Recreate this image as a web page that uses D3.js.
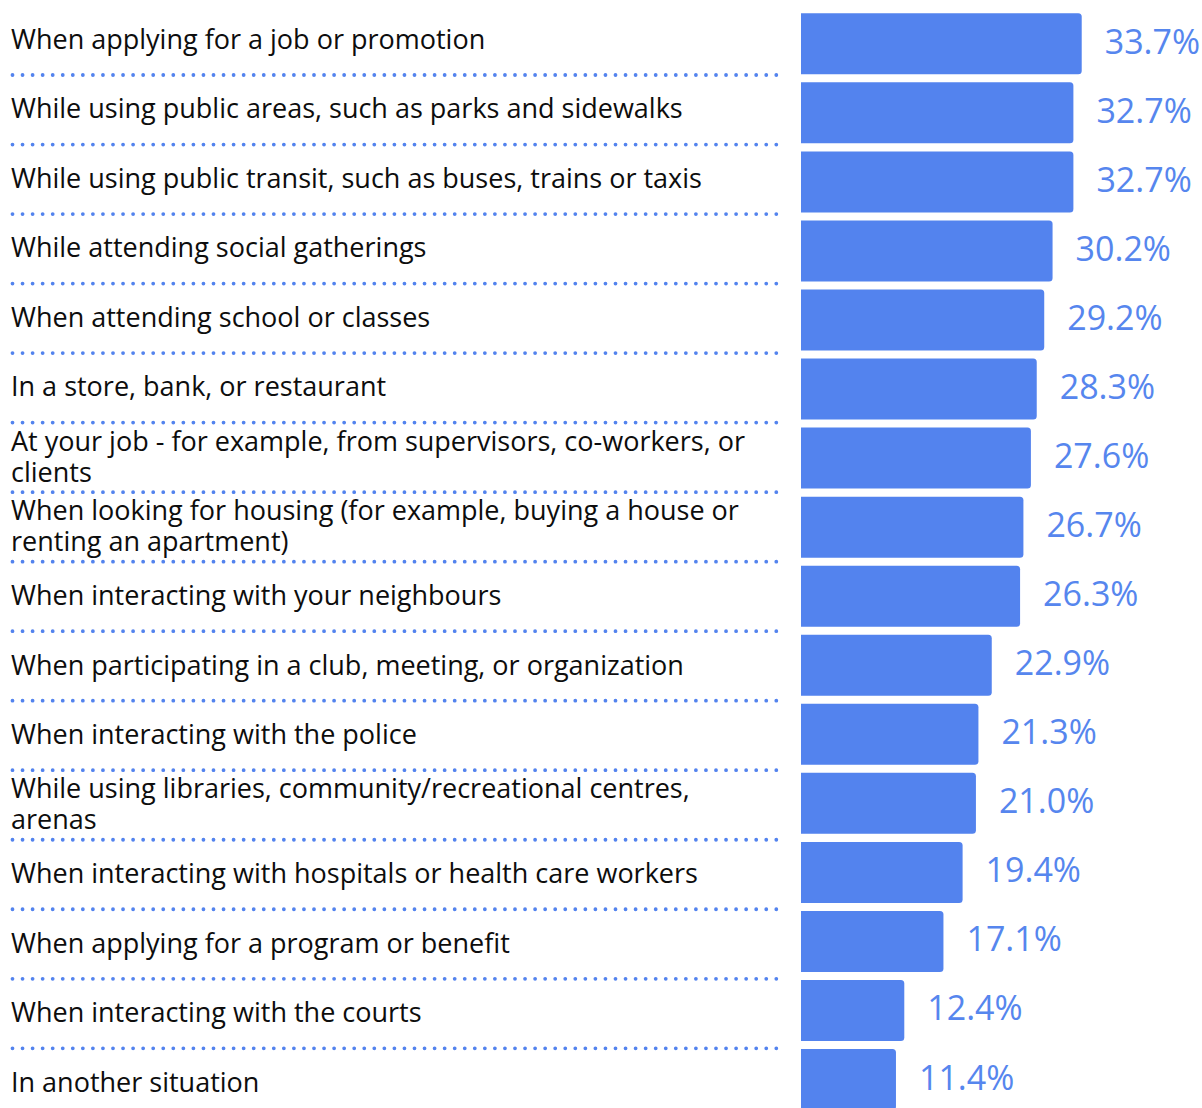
<!DOCTYPE html>
<html>
<head>
<meta charset="utf-8">
<script src="https://cdn.jsdelivr.net/npm/d3@7"></script>
<style>
  html, body { margin: 0; padding: 0; background: #ffffff; }
  svg { display: block; }
</style>
</head>
<body>
<svg id="chart" width="1202" height="1108"></svg>
<script>
// Situations (line breaks mark where the longer labels wrap)
const situations = [
  "When applying for a job or promotion",
  "While using public areas, such as parks and sidewalks",
  "While using public transit, such as buses, trains or taxis",
  "While attending social gatherings",
  "When attending school or classes",
  "In a store, bank, or restaurant",
  "At your job - for example, from supervisors, co-workers, or\nclients",
  "When looking for housing (for example, buying a house or\nrenting an apartment)",
  "When interacting with your neighbours",
  "When participating in a club, meeting, or organization",
  "When interacting with the police",
  "While using libraries, community/recreational centres,\narenas",
  "When interacting with hospitals or health care workers",
  "When applying for a program or benefit",
  "When interacting with the courts",
  "In another situation"
];

// Share of respondents (%)
const shares = [33.7, 32.7, 32.7, 30.2, 29.2, 28.3, 27.6, 26.7, 26.3, 22.9, 21.3, 21.0, 19.4, 17.1, 12.4, 11.4];

const rows = situations.map((s, i) => ({ id: i, label: s, value: shares[i] }));

const svg = d3.select("#chart");

const barColor = "#5383ee";
const dotColor = "#5383ee";
const valueColor = "#5686ee";
const textFont = "'Open Sans', 'Noto Sans', sans-serif";

// Horizontal value scale for the bars
const x = d3.scaleLinear().domain([0, 40]).range([801, 1134.2]);

// Band scale for the bars
const yBar = d3.scaleBand()
  .domain(rows.map(d => d.id))
  .range([9.27, 9.27 + 16 * 69.05])
  .paddingInner(0.1166)
  .paddingOuter(0.0583);

// Band scale for the label table on the left
const yRow = d3.scaleBand()
  .domain(rows.map(d => d.id))
  .range([5.5, 5.5 + 16 * 69.52])
  .padding(0);

// Dotted separators between label rows
svg.append("g")
  .selectAll("line")
  .data(rows.slice(0, rows.length - 1))
  .join("line")
  .attr("x1", 12.5)
  .attr("x2", 782)
  .attr("y1", d => yRow(d.id) + yRow.bandwidth())
  .attr("y2", d => yRow(d.id) + yRow.bandwidth())
  .attr("stroke", dotColor)
  .attr("stroke-width", 3.8)
  .attr("stroke-linecap", "round")
  .attr("stroke-dasharray", "0 10.05");

// Category labels, vertically centred in their rows
const fontSize = 27;
const lineHeight = 31;
const capHalf = fontSize * 0.714 / 2;

const labels = svg.append("g")
  .attr("font-family", textFont)
  .attr("font-size", fontSize)
  .attr("fill", "#0d0d0d")
  .selectAll("text")
  .data(rows)
  .join("text")
  .attr("x", 11);

labels.each(function(d) {
  const lines = d.label.split("\n");
  const cy = yRow(d.id) + yRow.bandwidth() / 2;
  const firstBase = cy + capHalf - 1 - (lines.length - 1) * lineHeight / 2;
  d3.select(this).selectAll("tspan")
    .data(lines)
    .join("tspan")
    .attr("x", 11)
    .attr("y", (l, i) => firstBase + i * lineHeight)
    .text(l => l);
});

// Bars with rounded right-hand corners
const r = 3.5;
function barPath(d) {
  const x0 = x(0), x1 = x(d.value);
  const y0 = yBar(d.id), h = yBar.bandwidth();
  return `M${x0},${y0}H${x1 - r}Q${x1},${y0} ${x1},${y0 + r}` +
         `V${y0 + h - r}Q${x1},${y0 + h} ${x1 - r},${y0 + h}H${x0}Z`;
}

svg.append("g")
  .selectAll("path")
  .data(rows)
  .join("path")
  .attr("d", barPath)
  .attr("fill", barColor);

// Value labels to the right of each bar
svg.append("g")
  .attr("font-family", textFont)
  .attr("font-size", 34)
  .attr("fill", valueColor)
  .selectAll("text")
  .data(rows)
  .join("text")
  .attr("x", d => x(d.value) + 23)
  .attr("y", d => yBar(d.id) + yBar.bandwidth() / 2 + 10)
  .text(d => d.value.toFixed(1) + "%");
</script>
</body>
</html>
